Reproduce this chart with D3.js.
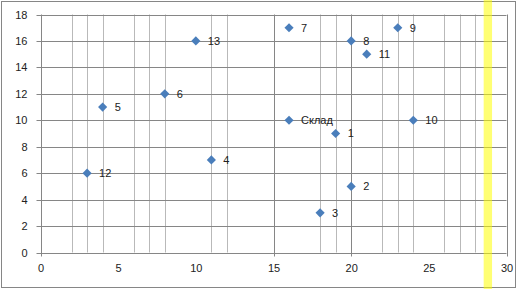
<!DOCTYPE html>
<html>
<head>
<meta charset="utf-8">
<script src="https://cdn.jsdelivr.net/npm/d3@7"></script>
<style>
	body { margin: 0; background: #fff; }
	svg { display: block; font-family: "Liberation Sans", Arial, sans-serif; }
</style>
</head>
<body>
<div id="chart"></div>
<script>
// points of the chart
var pointNames = ["1", "2", "3", "4", "5", "6", "7", "8", "9", "10", "11", "12", "13", "Склад"];
var xValues = [19, 20, 18, 11, 4, 8, 16, 20, 23, 24, 21, 3, 10, 16];
var yValues = [9, 5, 3, 7, 11, 12, 17, 16, 17, 10, 15, 6, 16, 10];

var xTicks = [0, 5, 10, 15, 20, 25, 30];
var yTicks = [0, 2, 4, 6, 8, 10, 12, 14, 16, 18];
var majorXGrid = [15, 20, 30];
var minorXGrid = [2, 3, 4, 6, 7, 8, 11, 12, 18, 19, 22, 23, 24, 26, 27, 28];
var bandFrom = 28.53, bandTo = 29.07;

var width = 524, height = 289;

var svg = d3.select("#chart").append("svg")
	.attr("width", width)
	.attr("height", height);

var x = d3.scaleLinear().domain([0, 30]).range([40.5, 506.5]);
var y = d3.scaleLinear().domain([0, 18]).range([252.5, 14.5]);

// outer border
svg.append("rect")
	.attr("x", 1.5).attr("y", 1.5)
	.attr("width", 514).attr("height", 286)
	.attr("fill", "#fff")
	.attr("stroke", "#868686");

svg.append("g").selectAll("line")
	.data(minorXGrid)
	.enter().append("line")
	.attr("x1", function(d) { return Math.round(x(d)) + 0.5; })
	.attr("x2", function(d) { return Math.round(x(d)) + 0.5; })
	.attr("y1", y(18)).attr("y2", y(0))
	.attr("stroke", "#b9b9b9");

svg.append("g").selectAll("line")
	.data(yTicks)
	.enter().append("line")
	.attr("x1", x(0) - 4).attr("x2", x(30))
	.attr("y1", function(d) { return Math.round(y(d)) + 0.5; })
	.attr("y2", function(d) { return Math.round(y(d)) + 0.5; })
	.attr("stroke", "#868686");

svg.append("g").selectAll("line")
	.data([0].concat(majorXGrid))
	.enter().append("line")
	.attr("x1", function(d) { return Math.round(x(d)) + 0.5; })
	.attr("x2", function(d) { return Math.round(x(d)) + 0.5; })
	.attr("y1", function(d) { return d === 0 ? y(18) : y(18); })
	.attr("y2", y(0) + 4)
	.attr("stroke", "#868686");

var yAxis = d3.axisLeft(y).tickValues(yTicks).tickSize(0).tickPadding(13);
svg.append("g")
	.attr("transform", "translate(" + x(0) + ",0)")
	.call(yAxis)
	.call(function(g) { g.select(".domain").remove(); })
	.selectAll("text")
	.attr("font-size", 11)
	.attr("font-family", "Liberation Sans, Arial, sans-serif")
	.attr("fill", "#222");

var xAxis = d3.axisBottom(x).tickValues(xTicks).tickSize(0).tickPadding(12);
svg.append("g")
	.attr("transform", "translate(0," + y(0) + ")")
	.call(xAxis)
	.call(function(g) { g.select(".domain").remove(); })
	.selectAll("text")
	.attr("font-size", 11)
	.attr("font-family", "Liberation Sans, Arial, sans-serif")
	.attr("fill", "#222");

var points = pointNames.map(function(name, i) {
	return { name: name, x: xValues[i], y: yValues[i] };
});

var diamond = d3.symbol().type(d3.symbolSquare).size(42);

svg.append("g").selectAll("path")
	.data(points)
	.enter().append("path")
	.attr("d", diamond)
	.attr("transform", function(d) { return "translate(" + x(d.x) + "," + y(d.y) + ") rotate(45)"; })
	.attr("fill", "#4a7ebb");

svg.append("g").selectAll("text")
	.data(points)
	.enter().append("text")
	.attr("x", function(d) { return x(d.x) + 12; })
	.attr("y", function(d) { return y(d.y); })
	.attr("dy", "0.35em")
	.attr("font-size", 11)
	.attr("fill", "#222")
	.text(function(d) { return d.name; });

// yellow marker band, drawn over everything
svg.append("rect")
	.attr("x", x(bandFrom))
	.attr("width", x(bandTo) - x(bandFrom))
	.attr("y", 0)
	.attr("height", height)
	.attr("fill", "#ffff00")
	.attr("opacity", 0.55);
</script>
</body>
</html>
